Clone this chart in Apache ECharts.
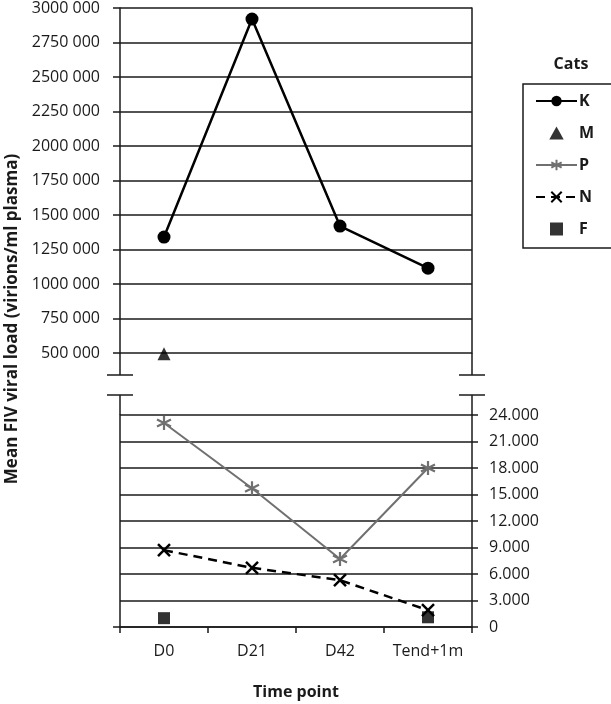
<!DOCTYPE html>
<html>
<head>
<meta charset="utf-8">
<script src="https://cdn.jsdelivr.net/npm/echarts@6/dist/echarts.min.js"></script>
<style>
html,body{margin:0;padding:0;background:#fff;}
#chart{width:611px;height:704px;}
</style>
</head>
<body>
<div id="chart"></div>
<script>
var categories = ['D0', 'D21', 'D42', 'Tend+1m'];
var seriesNames = ['K', 'M', 'P', 'N', 'F'];
var valuesK = [1340000, 2920000, 1420000, 1115000];
var valuesM = [495000, '-', '-', '-'];
var valuesP = [23100, 15700, 7700, 18000];
var valuesN = [8700, 6700, 5300, 1900];
var valuesF = [1000, '-', '-', 1100];
var topAxisMin = 500000, topAxisMax = 3000000, topAxisStep = 250000;
var bottomAxisMin = 0, bottomAxisMax = 24000, bottomAxisStep = 3000;
var yTitle = 'Mean FIV viral load (virions/ml plasma)';
var xTitle = 'Time point';
var legendTitle = 'Cats';

var FONT = '"Open Sans", "Noto Sans", sans-serif';
var INK = '#1a1a1a';

function fmtTop(v) {
  var th = Math.floor(v / 1000);
  var rest = String(v % 1000);
  while (rest.length < 3) rest = '0' + rest;
  return th + ' ' + rest;
}
function fmtBottom(v) {
  if (v === 0) return '0';
  return Math.floor(v / 1000) + '.' + ('00' + (v % 1000)).slice(-3);
}

var L = 120, R = 472, W = R - L;
var topT = 8, topB = 353, botT = 415, botB = 627;
var brk1 = 375, brk2 = 395;

var asterisk = 'path://M5,0L5,10M0.7,2.5L9.3,7.5M9.3,2.5L0.7,7.5';
var cross = 'path://M0,0L10,10M10,0L0,10';
var triIcon = 'path://M5,0L10,9L0,9Z';
var sqIcon = 'path://M0,0L10,0L10,10L0,10Z';

var chart = echarts.init(document.getElementById('chart'), null, {renderer: 'canvas'});

function lineSeg(x1, y1, x2, y2) {
  return {type: 'line', shape: {x1: x1, y1: y1, x2: x2, y2: y2},
    style: {stroke: INK, lineWidth: 1.5}, silent: true};
}

var option = {
  backgroundColor: '#fff',
  animation: false,
  textStyle: {fontFamily: FONT, color: INK},
  title: {
    text: legendTitle, left: 566, top: 51, textAlign: 'center',
    textStyle: {fontFamily: FONT, fontWeight: 'bold', fontSize: 16, color: INK}
  },
  legend: {
    orient: 'vertical', left: 523, top: 84,
    data: [
      {name: 'K'},
      {name: 'M', icon: triIcon},
      {name: 'P'},
      {name: 'N'},
      {name: 'F', icon: sqIcon}
    ],
    itemWidth: 41, itemHeight: 13, itemGap: 16,
    symbolKeepAspect: true,
    padding: [9, 19, 11, 12],
    borderColor: INK, borderWidth: 1.5,
    textStyle: {fontFamily: FONT, fontWeight: 'bold', fontSize: 16, color: INK, padding: [0, 0, 0, -3]}
  },
  grid: [
    {left: L, top: topT, width: W, height: topB - topT},
    {left: L, top: botT, width: W, height: botB - botT}
  ],
  xAxis: [
    {gridIndex: 0, type: 'category', data: categories, show: false},
    {gridIndex: 1, type: 'category', data: categories, boundaryGap: true,
      axisLine: {lineStyle: {color: INK, width: 1.5}},
      axisTick: {show: true, interval: 0, length: 6, lineStyle: {color: INK, width: 1.5}},
      axisLabel: {interval: 0, fontFamily: FONT, fontSize: 16, color: INK, margin: 16},
      name: xTitle, nameLocation: 'middle', nameGap: 57,
      nameTextStyle: {fontFamily: FONT, fontWeight: 'bold', fontSize: 16, color: INK}
    }
  ],
  yAxis: [
    {gridIndex: 0, type: 'value', position: 'left', min: topAxisMin, max: topAxisMax, interval: topAxisStep,
      axisLine: {show: true, lineStyle: {color: INK, width: 1.5}},
      axisTick: {show: true, length: 7, lineStyle: {color: INK, width: 1.5}},
      axisLabel: {formatter: fmtTop, fontFamily: FONT, fontSize: 16, color: INK, margin: 20},
      splitLine: {show: true, lineStyle: {color: INK, width: 1.5}}
    },
    {gridIndex: 0, type: 'value', position: 'right', min: topAxisMin, max: topAxisMax, interval: topAxisStep,
      axisLine: {show: true, lineStyle: {color: INK, width: 1.5}},
      axisTick: {show: false}, axisLabel: {show: false}, splitLine: {show: false}
    },
    {gridIndex: 1, type: 'value', position: 'right', min: bottomAxisMin, max: bottomAxisMax, interval: bottomAxisStep,
      axisLine: {show: true, lineStyle: {color: INK, width: 1.5}},
      axisTick: {show: true, length: 6, lineStyle: {color: INK, width: 1.5}},
      axisLabel: {formatter: fmtBottom, fontFamily: FONT, fontSize: 16, color: INK, margin: 17},
      splitLine: {show: true, lineStyle: {color: INK, width: 1.5}}
    },
    {gridIndex: 1, type: 'value', position: 'left', min: bottomAxisMin, max: bottomAxisMax, interval: bottomAxisStep,
      axisLine: {show: true, lineStyle: {color: INK, width: 1.5}},
      axisTick: {show: false}, axisLabel: {show: false}, splitLine: {show: false}
    }
  ],
  series: [
    {name: 'K', type: 'line', xAxisIndex: 0, yAxisIndex: 0, data: valuesK,
      symbol: 'circle', symbolSize: 13,
      itemStyle: {color: '#000'}, lineStyle: {color: '#000', width: 2.5}},
    {name: 'M', type: 'scatter', xAxisIndex: 0, yAxisIndex: 0, data: valuesM, clip: false,
      symbol: 'triangle', symbolSize: 13, itemStyle: {color: '#000'}},
    {name: 'P', type: 'line', xAxisIndex: 1, yAxisIndex: 2, data: valuesP,
      symbol: asterisk, symbolSize: 14,
      itemStyle: {color: 'rgba(0,0,0,0)', borderColor: '#707070', borderWidth: 2.2},
      lineStyle: {color: '#707070', width: 2}},
    {name: 'N', type: 'line', xAxisIndex: 1, yAxisIndex: 2, data: valuesN,
      symbol: cross, symbolSize: 12,
      itemStyle: {color: 'rgba(0,0,0,0)', borderColor: '#000', borderWidth: 2.5},
      lineStyle: {color: '#000', width: 2.5, type: [9, 6]}},
    {name: 'F', type: 'scatter', xAxisIndex: 1, yAxisIndex: 2, data: valuesF,
      symbol: 'rect', symbolSize: 12, itemStyle: {color: '#000'}}
  ],
  graphic: [
    lineSeg(L, topB, L, brk1), lineSeg(R, topB, R, brk1),
    lineSeg(L, brk2, L, botT), lineSeg(R, brk2, R, botT),
    lineSeg(L - 13, brk1, L + 13, brk1), lineSeg(L - 13, brk2, L + 13, brk2),
    lineSeg(R - 13, brk1, R + 13, brk1), lineSeg(R - 13, brk2, R + 13, brk2),
    lineSeg(L - 7, botB, L, botB),
    {type: 'text', x: 12, y: 319, rotation: Math.PI / 2,
      style: {text: yTitle, fontFamily: FONT, fontWeight: 'bold', fontSize: 17, fill: INK,
        align: 'center', verticalAlign: 'middle'}}
  ]
};
chart.setOption(option);
</script>
</body>
</html>
